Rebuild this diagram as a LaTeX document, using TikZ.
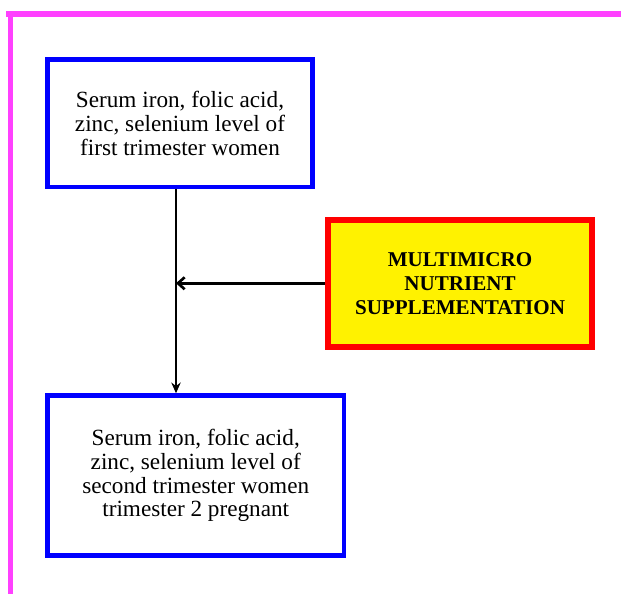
\documentclass[tikz,border=0pt]{standalone}
\usepackage{fontspec}
\setmainfont{Liberation Serif}
\usetikzlibrary{arrows.meta}
\definecolor{framepink}{RGB}{255,64,255}
\tikzset{every picture/.style={line width=0.75pt}}
\tikzset{
	levelbox/.style={draw=blue, line width=3.4pt, fill=white, align=center, inner sep=0.75pt, font=\fontsize{17.4}{17.8}\selectfont},
	suppbox/.style={draw=red, fill=yellow, line width=4.5pt, align=center, inner sep=0.75pt, font=\bfseries\fontsize{15.8}{18}\selectfont},
	link/.style={line width=2pt},
}

\begin{document}
\begin{tikzpicture}[x=0.75pt,y=0.75pt,yscale=-1,xscale=1]
				\useasboundingbox (0,0) rectangle (621,594);
				
				%Straight Lines [frame top] 
				\draw  [framepink, line width=4.5pt]  (6,14) -- (621,14) ;
				%Straight Lines [frame left] 
				\draw  [framepink, line width=3.75pt]  (10.5,11) -- (10.5,594) ;
				
				% Text Node
				\node [levelbox, minimum width=198.75pt, minimum height=95.6pt] (trimOne) at (180,123.25) {Serum iron, folic acid,\\zinc, selenium level of\\first trimester women};
				% Text Node
				\node [suppbox, minimum width=198pt, minimum height=94.9pt] (supp) at (460,283.25) {MULTIMICRO\\NUTRIENT\\SUPPLEMENTATION};
				% Text Node
				\node [levelbox, minimum width=222.4pt, minimum height=120pt] (trimTwo) at (195.75,475.5) {Serum iron, folic acid,\\zinc, selenium level of\\second trimester women\\trimester 2 pregnant};
				
				\coordinate (junc) at (176,283.25);
				%Straight Lines [down] 
				\draw  [link, -{Stealth[length=8pt,width=7pt]}]  (trimOne.south -| junc) -- (trimTwo.north -| junc) ;
				%Straight Lines [in] 
				\draw  [link, -{Straight Barb[length=5pt,width=9pt]}]  (supp.west) -- (junc) ;
\end{tikzpicture}
\end{document}
